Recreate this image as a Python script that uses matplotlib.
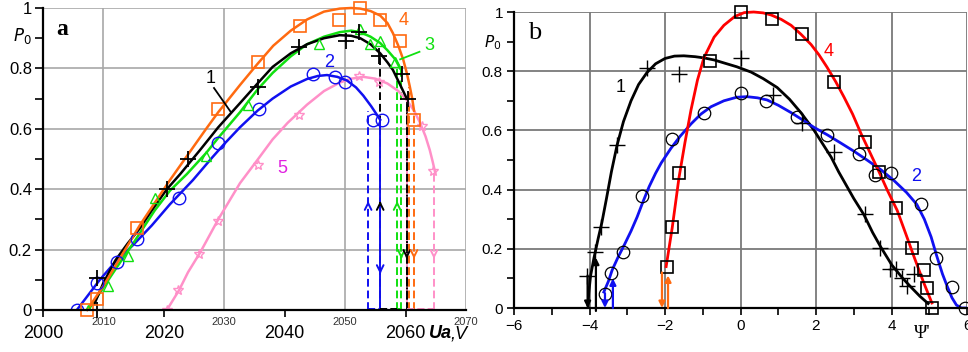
import matplotlib
matplotlib.use('Agg')
import matplotlib.pyplot as plt

plt.rcParams['font.family'] = ['Liberation Sans', 'DejaVu Sans']

# ===== DATA, panel a (P0 vs Ua)

fit4_x = [2007.3, 2010, 2013, 2016, 2019, 2021, 2024, 2027, 2029, 2032.6, 2035.5, 2038.1, 2041,
          2043.7, 2046.5, 2049.1, 2051, 2052.5, 2054.2, 2055.8, 2057, 2057.9, 2058.8, 2059.6,
          2060.2, 2060.7, 2061.1, 2061.4]
fit4_y = [0, 0.08, 0.18, 0.28, 0.37, 0.43, 0.515, 0.60, 0.655, 0.745, 0.815, 0.875, 0.925,
          0.962, 0.988, 0.998, 1.0, 0.998, 0.99, 0.975, 0.95, 0.917, 0.875, 0.83,
          0.785, 0.74, 0.70, 0.66]
fit1_x = [2008.5, 2010, 2012, 2014, 2016, 2018, 2020.5, 2022.7, 2026, 2029, 2032.6, 2035.5, 2038,
          2041, 2043.7, 2046.5, 2049.1, 2051, 2052.5, 2054.2, 2055.8, 2057, 2057.9, 2059, 2060.2]
fit1_y = [0.02, 0.09, 0.165, 0.22, 0.27, 0.33, 0.40, 0.45, 0.53, 0.605, 0.685, 0.75, 0.805,
          0.85, 0.88, 0.90, 0.91, 0.908, 0.90, 0.88, 0.85, 0.82, 0.795, 0.75, 0.70]
fit3_x = [2007.5, 2010, 2012.5, 2014.9, 2018.5, 2021, 2023.8, 2027, 2029, 2032.6, 2035.5, 2038,
          2041, 2043.7, 2046.5, 2049.1, 2051, 2052.5, 2054.2, 2055.8, 2057, 2058.3, 2059.1]
fit3_y = [0, 0.075, 0.15, 0.22, 0.33, 0.395, 0.45, 0.52, 0.57, 0.655, 0.73, 0.785,
          0.84, 0.88, 0.905, 0.92, 0.925, 0.92, 0.905, 0.884, 0.86, 0.83, 0.80]
fit2_x = [2005.6, 2007.5, 2009.4, 2012, 2014.9, 2018, 2021, 2024.8, 2028, 2030, 2032.6, 2035.5,
          2038, 2041, 2043.7, 2045.5, 2047, 2048.7, 2050.3, 2051.8, 2053, 2054.3, 2055.3, 2055.8]
fit2_y = [0, 0.05, 0.10, 0.16, 0.215, 0.28, 0.35, 0.43, 0.505, 0.55, 0.605, 0.66,
          0.70, 0.74, 0.765, 0.775, 0.778, 0.772, 0.76, 0.737, 0.71, 0.675, 0.645, 0.63]
fit5_x = [2020.5, 2022.5, 2024, 2026, 2029, 2032.6, 2035.6, 2038, 2040.5, 2043.7, 2046.5, 2049.1,
          2051, 2053, 2055, 2057, 2058.8, 2060.2, 2061.4, 2062.4, 2063.3, 2064, 2064.5, 2064.9]
fit5_y = [0, 0.065, 0.125, 0.19, 0.30, 0.42, 0.50, 0.565, 0.62, 0.68, 0.725, 0.753,
          0.766, 0.772, 0.766, 0.75, 0.725, 0.695, 0.66, 0.62, 0.575, 0.53, 0.49, 0.455]

sq_x = [2007.3, 2008.9, 2015.5, 2029, 2035.6, 2042.5, 2049, 2052.5, 2055.8, 2059.1, 2061.4]
sq_y = [0, 0.035, 0.27, 0.665, 0.82, 0.94, 0.96, 1.0, 0.96, 0.89, 0.63]
pl_x = [2008.9, 2008.9, 2020.5, 2024, 2035.6, 2042.4, 2050.2, 2052.3, 2055.6, 2059.4, 2060.4]
pl_y = [0, 0.105, 0.40, 0.50, 0.74, 0.87, 0.89, 0.92, 0.84, 0.78, 0.70]
tr_x = [2007.5, 2010.8, 2014, 2018.5, 2027, 2034, 2045.7, 2052.5, 2054.1, 2055.8, 2058.3]
tr_y = [0, 0.08, 0.18, 0.37, 0.51, 0.68, 0.88, 0.93, 0.88, 0.89, 0.82]
ci_x = [2005.6, 2009, 2012.2, 2015.6, 2022.5, 2029, 2035.8, 2044.7, 2048.3, 2050, 2054.6, 2056.1]
ci_y = [0, 0.09, 0.16, 0.235, 0.37, 0.553, 0.665, 0.78, 0.77, 0.755, 0.63, 0.63]
st_x = [2020.5, 2022.4, 2025.8, 2029, 2035.6, 2042.4, 2052.3, 2055.6, 2062.7, 2064.6]
st_y = [0, 0.065, 0.185, 0.295, 0.48, 0.645, 0.775, 0.755, 0.61, 0.46]

# jump lines: x, top, colour, style
jumps_a = [(2053.8, 0.66, 'blue', '--'), (2055.8, 0.84, 'black', '--'), (2055.8, 0.63, 'blue', '-'),
           (2058.6, 0.80, 'green', '--'), (2059.3, 0.80, 'green', '--'),
           (2060.2, 0.695, 'pink', '-'), (2060.2, 0.70, 'black', '--'),
           (2060.5, 0.74, 'orange', '--'), (2061.4, 0.66, 'orange', '--'),
           (2064.7, 0.455, 'pink', '--')]
arrows_up_a = [(2053.8, 0.37, 'blue'), (2055.8, 0.37, 'black'), (2058.6, 0.37, 'green')]
arrows_dn_a = [(2055.8, 0.11, 'blue'), (2059.3, 0.16, 'green'), (2060.2, 0.16, 'black'),
               (2061.4, 0.16, 'orange'), (2064.7, 0.16, 'pink')]

# ===== DATA, panel b (P0 vs psi')

b1_x = [-4.04, -4.02, -3.97, -3.88, -3.77, -3.67, -3.55, -3.42, -3.27, -3.1, -2.9, -2.7, -2.48,
        -2.25, -2.0, -1.75, -1.5, -1.2, -0.97, -0.7, -0.44, -0.1, 0.28, 0.6, 0.97, 1.3, 1.6,
        1.95, 2.2, 2.4, 2.6, 2.8, 3.0, 3.27, 3.5, 3.72, 4.01, 4.3, 4.52, 4.75, 4.97]
b1_y = [0.0, 0.05, 0.11, 0.17, 0.235, 0.29, 0.37, 0.46, 0.55, 0.63, 0.70, 0.755, 0.795,
        0.825, 0.843, 0.851, 0.852, 0.849, 0.845, 0.838, 0.828, 0.815, 0.797, 0.775, 0.745, 0.705, 0.66,
        0.60, 0.55, 0.51, 0.46, 0.415, 0.37, 0.315, 0.255, 0.205, 0.145, 0.10, 0.07, 0.04, 0.015]
b2_x = [-3.62, -3.5, -3.40, -3.25, -3.09, -2.9, -2.74, -2.58, -2.42, -2.25, -2.1, -1.84, -1.6,
        -1.31, -1.05, -0.78, -0.44, -0.1, 0.17, 0.45, 0.7, 1.0, 1.34, 1.65, 1.95, 2.3, 2.66, 3.0,
        3.35, 3.72, 4.07, 4.4, 4.67, 4.87, 5.05, 5.2, 5.35, 5.47, 5.6, 5.72, 5.85, 6.0]
b2_y = [0.054, 0.09, 0.128, 0.17, 0.21, 0.26, 0.307, 0.36, 0.41, 0.455, 0.49, 0.54, 0.58,
        0.622, 0.655, 0.68, 0.70, 0.712, 0.714, 0.71, 0.703, 0.685, 0.66, 0.635, 0.61, 0.585, 0.557, 0.53,
        0.50, 0.467, 0.43, 0.39, 0.35, 0.30, 0.24, 0.175, 0.115, 0.075, 0.035, 0.01, 0.0, 0.0]
b4_x = [-1.97, -1.89, -1.81, -1.72, -1.63, -1.47, -1.31, -1.14, -0.97, -0.7, -0.44, -0.15, 0.1,
        0.35, 0.6, 0.81, 1.08, 1.34, 1.6, 1.87, 2.08, 2.29, 2.52, 2.74, 2.97, 3.19, 3.43, 3.67,
        3.9, 4.15, 4.38, 4.6, 4.84, 5.07]
b4_y = [0.14, 0.205, 0.27, 0.355, 0.44, 0.56, 0.67, 0.77, 0.845, 0.915, 0.955, 0.985, 0.998,
        1.0, 0.997, 0.99, 0.975, 0.955, 0.925, 0.89, 0.855, 0.814, 0.765, 0.713, 0.655, 0.59, 0.525, 0.46,
        0.395, 0.33, 0.25, 0.172, 0.09, 0.017]

bpl_x = [-4.07, -3.85, -3.70, -3.27, -2.48, -1.63, 0.01, 0.85, 1.63, 2.48, 3.30, 3.70, 3.96,
         4.12, 4.28, 4.41, 4.6]
bpl_y = [0.108, 0.19, 0.275, 0.55, 0.81, 0.79, 0.845, 0.72, 0.625, 0.527, 0.318, 0.203, 0.132,
         0.132, 0.10, 0.074, 0.115]
bci_x = [-3.59, -3.43, -3.11, -2.61, -1.82, -0.97, 0.01, 0.68, 1.5, 2.29, 3.14, 3.56, 3.99,
         4.78, 5.18, 5.6, 5.95]
bci_y = [0.047, 0.118, 0.19, 0.38, 0.57, 0.66, 0.725, 0.70, 0.645, 0.585, 0.52, 0.45, 0.455,
         0.35, 0.17, 0.07, 0.0]
bsq_x = [-1.95, -1.82, -1.63, -0.8, 0.01, 0.83, 1.63, 2.48, 3.3, 3.67, 4.12, 4.55, 4.86, 4.94, 5.07]
bsq_y = [0.14, 0.275, 0.455, 0.835, 1.0, 0.976, 0.925, 0.765, 0.56, 0.46, 0.338, 0.203, 0.128,
         0.068, 0.0]

# x, y_from, y_to, colour
arrows_b = [(-4.05, 0.11, 0.0, 'black'), (-3.83, -0.01, 0.17, 'black'),
            (-3.59, 0.05, 0.0, 'blue'), (-3.38, 0.0, 0.10, 'blue'),
            (-2.08, 0.12, 0.0, 'orange'), (-1.92, 0.0, 0.11, 'orange')]

# ===== COLOURS

C = {'orange': '#FF6A10', 'black': 'black', 'green': '#10E010', 'blue': '#1010F0',
     'pink': '#FF90C8', 'magenta': '#E020E0', 'red': '#FF0000'}

fig = plt.figure(figsize=(9.68, 3.52), dpi=100)
W, H = 968., 352.

# ===== PANEL a

ax = fig.add_axes([43 / W, 1 - 310 / H, 423 / W, 302 / H])
ax.set_xlim(2000, 2070)
ax.set_ylim(0, 1)

for x, top, c, ls in jumps_a:
    ax.plot([x, x], [0, top], color=C[c], ls=ls, lw=1.4, dashes=(4, 2) if ls == '--' else (None, None))
ax.plot([2060.2, 2060.2], [0, 0.70], color='black', ls=':', lw=1.4)
ax.plot([2053.8, 2055.8], [0.003, 0.003], color=C['blue'], ls='--', lw=1.4)
ax.plot([2055.8, 2058.6], [0.003, 0.003], color='black', ls='--', lw=1.4)
ax.plot([2058.6, 2059.3], [0.003, 0.003], color=C['green'], ls='--', lw=1.4)
ax.plot([2060.2, 2064.7], [0.003, 0.003], color=C['pink'], ls='--', lw=1.4)
for x, y, c in arrows_up_a:
    ax.annotate('', xy=(x, y), xytext=(x, y - 0.03),
                arrowprops=dict(arrowstyle='->', color=C[c], lw=1.4, mutation_scale=12))
for x, y, c in arrows_dn_a:
    ax.annotate('', xy=(x, y), xytext=(x, y + 0.03),
                arrowprops=dict(arrowstyle='->', color=C[c], lw=1.4, mutation_scale=12))

ax.plot(fit5_x, fit5_y, color=C['pink'], lw=1.8)
ax.plot(fit2_x, fit2_y, color=C['blue'], lw=1.8)
ax.plot(fit3_x, fit3_y, color=C['green'], lw=1.8)
ax.plot(fit1_x, fit1_y, color='black', lw=1.8)
ax.plot(fit4_x, fit4_y, color=C['orange'], lw=1.8, clip_on=False)

ax.plot(st_x, st_y, ls='none', marker='*', ms=7, mfc='none', mec=C['pink'], mew=1.0)
ax.plot(ci_x, ci_y, ls='none', marker='o', ms=9, mfc='none', mec=C['blue'], mew=1.0)
ax.plot(tr_x, tr_y, ls='none', marker='^', ms=7, mfc='none', mec=C['green'], mew=1.0)
ax.plot(pl_x, pl_y, ls='none', marker='+', ms=11, mec='black', mew=1.3, clip_on=False)
ax.plot(sq_x, sq_y, ls='none', marker='s', ms=8, mfc='none', mec=C['orange'], mew=1.2, clip_on=False)

ax.set_xticks([2000, 2020, 2040, 2060])
ax.set_xticks([2010, 2030, 2050, 2070], labels=['2010', '2030', '2050', '2070'], minor=True)
ax.set_yticks([0, 0.2, 0.4, 0.6, 0.8, 1.0], labels=['0', '0.2', '0.4', '0.6', '0.8', '1'])
ax.set_yticks([0.1, 0.3, 0.5, 0.7, 0.9], minor=True)
ax.tick_params(axis='x', which='major', length=5, width=1.2, labelsize=13, pad=6)
ax.tick_params(axis='x', which='minor', length=0, labelsize=8, pad=5, labelcolor='#333333')
ax.tick_params(axis='y', which='both', length=6, width=1.2, labelsize=12, pad=2)
ax.grid(True, axis='x', which='minor', color='#A8A8A8', lw=1.2)
ax.grid(True, axis='y', which='major', color='#A8A8A8', lw=1.2)
for s in ['top', 'right']:
    ax.spines[s].set_visible(False)
for s in ['left', 'bottom']:
    ax.spines[s].set_linewidth(1.6)
ax.set_axisbelow(True)

ax.text(2002.2, 0.93, 'a', family='Liberation Serif', fontweight='bold', fontsize=17,
        va='center', ha='left', bbox=dict(facecolor='white', edgecolor='none', pad=2))
ax.text(2027.8, 0.765, '1', fontsize=13, color='black', ha='center', va='center')
ax.plot([2028.3, 2031.1], [0.735, 0.655], color='black', lw=1.3)
ax.text(2047.3, 0.82, '2', fontsize=13, color=C['blue'], ha='center', va='center')
ax.text(2064.0, 0.877, '3', fontsize=13, color=C['green'], ha='center', va='center')
ax.plot([2059.1, 2062.3], [0.83, 0.855], color=C['green'], lw=1.3)
ax.text(2059.7, 0.96, '4', fontsize=13, color=C['orange'], ha='center', va='center')
ax.text(2039.6, 0.47, '5', fontsize=13, color=C['magenta'], ha='center', va='center')

fig.text(22 / W, 1 - 36 / H, '$P_{\\mathit{0}}$', fontsize=12, ha='center', va='center')
fig.text(429 / W, 1 - 334 / H, 'Ua', fontsize=13, fontweight='bold', style='italic',
         ha='left', va='center')
fig.text(451 / W, 1 - 334 / H, ',V', fontsize=13, style='italic', ha='left', va='center')

# ===== PANEL b

bx = fig.add_axes([514 / W, 1 - 308 / H, 453 / W, 296 / H])
bx.set_xlim(-6, 6)
bx.set_ylim(0, 1)

for x, y0, y1, c in arrows_b:
    bx.annotate('', xy=(x, y1), xytext=(x, y0), annotation_clip=False,
                arrowprops=dict(arrowstyle='-|>', color=C[c], lw=1.6, mutation_scale=9,
                                shrinkA=0, shrinkB=0))

bx.plot(b1_x, b1_y, color='black', lw=2.0)
bx.plot(b2_x, b2_y, color=C['blue'], lw=2.0)
bx.plot(b4_x, b4_y, color=C['red'], lw=2.0, clip_on=False)

bx.plot(bpl_x, bpl_y, ls='none', marker='+', ms=11, mec='black', mew=1.0)
bx.plot(bci_x, bci_y, ls='none', marker='o', ms=9, mfc='none', mec='black', mew=0.9, clip_on=False)
bx.plot(bsq_x, bsq_y, ls='none', marker='s', ms=8.5, mfc='none', mec='black', mew=1.2, clip_on=False)

bx.set_xticks([-6, -4, -2, 0, 2, 4, 6])
bx.set_xticks([-5, -3, -1, 1, 3, 5], minor=True)
bx.set_yticks([0, 0.2, 0.4, 0.6, 0.8, 1.0], labels=['0', '0.2', '0.4', '0.6', '0.8', '1'])
bx.set_yticks([0.1, 0.3, 0.5, 0.7, 0.9], minor=True)
bx.tick_params(axis='both', which='both', length=5, width=1.2, labelsize=11, pad=3)
bx.grid(True, which='major', color='#7A7A7A', lw=1.3)
for s in ['top', 'right']:
    bx.spines[s].set_visible(False)
for s in ['left', 'bottom']:
    bx.spines[s].set_linewidth(1.6)
bx.set_axisbelow(True)

bx.text(-5.62, 0.93, 'b', family='Liberation Serif', fontsize=19, va='center', ha='left',
        bbox=dict(facecolor='white', edgecolor='none', pad=2))
bx.text(-3.17, 0.745, '1', fontsize=13, color='black', ha='center', va='center')
bx.text(2.34, 0.865, '4', fontsize=13, color=C['red'], ha='center', va='center')
bx.text(4.65, 0.445, '2', fontsize=13, color=C['blue'], ha='center', va='center')

fig.text(493 / W, 1 - 43 / H, '$P_{\\mathit{0}}$', fontsize=11, ha='center', va='center')
fig.text(922 / W, 1 - 333 / H, "\u03a8'", family='Liberation Serif', fontsize=13,
         ha='center', va='center')

fig.savefig('out.png', dpi=100)
